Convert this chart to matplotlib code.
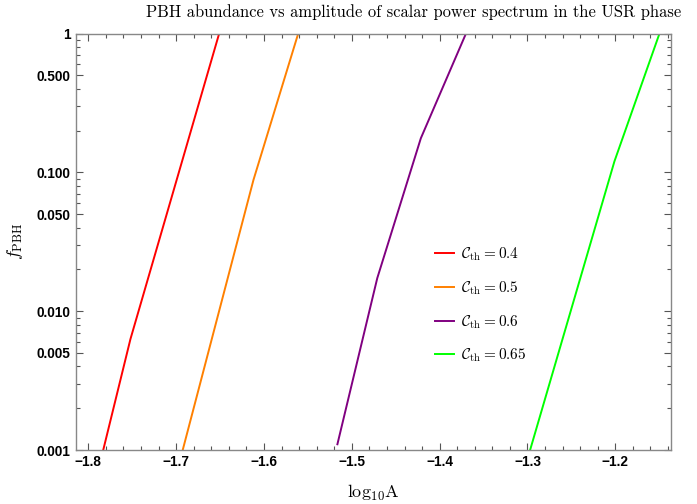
import matplotlib
matplotlib.use("Agg")
import matplotlib.pyplot as plt
from matplotlib.ticker import FixedLocator, NullFormatter

plt.rcParams["mathtext.fontset"] = "cm"

# ------------------------------------------------------------
# Data
# ------------------------------------------------------------
red_x = [-1.783, -1.752, -1.651]
red_y = [0.001, 0.0063, 1.0]

orange_x = [-1.6925, -1.612, -1.561]
orange_y = [0.001, 0.088, 1.0]

purple_x = [-1.5164, -1.471, -1.4214, -1.370]
purple_y = [0.0011, 0.0173, 0.176, 1.0]

green_x = [-1.297, -1.201, -1.1497]
green_y = [0.001, 0.12, 1.0]

labels = [r"$\mathcal{C}_{\mathrm{th}} = 0.4$", r"$\mathcal{C}_{\mathrm{th}} = 0.5$",
          r"$\mathcal{C}_{\mathrm{th}} = 0.6$", r"$\mathcal{C}_{\mathrm{th}} = 0.65$"]
colors = ["#ff0000", "#ff8000", "#800080", "#00ff00"]

x_major = [-1.8, -1.7, -1.6, -1.5, -1.4, -1.3, -1.2]
y_major = [0.001, 0.005, 0.01, 0.05, 0.1, 0.5, 1.0]
y_major_labels = ["0.001", "0.005", "0.010", "0.050", "0.100", "0.500", "1"]

# ------------------------------------------------------------
# Plot
# ------------------------------------------------------------
fig = plt.figure(figsize=(6.97, 5.04), dpi=100)
ax = fig.add_axes([76 / 697, 1 - 450 / 504, 595 / 697, 416.5 / 504])

series = [(red_x, red_y), (orange_x, orange_y), (purple_x, purple_y), (green_x, green_y)]
for (xs, ys), c, lab in zip(series, colors, labels):
    ax.plot(xs, ys, color=c, lw=1.4, label=lab)

ax.set_yscale("log")
ax.set_xlim(-1.814, -1.1366)
ax.set_ylim(0.001, 1.0)

# ticks, Mathematica style
ax.xaxis.set_major_locator(FixedLocator(x_major))
ax.set_xticklabels([f"\u2212{abs(v):.1f}" for v in x_major])
x_minor = [round(-1.82 + 0.02 * i, 2) for i in range(35)]
ax.xaxis.set_minor_locator(FixedLocator([v for v in x_minor if v not in x_major]))

ax.yaxis.set_major_locator(FixedLocator(y_major))
ax.set_yticklabels(y_major_labels)
y_minor = []
for dec in [0.001, 0.01, 0.1]:
    for m in [2, 3, 4, 6, 7, 8, 9]:
        y_minor.append(m * dec)
ax.yaxis.set_minor_locator(FixedLocator(y_minor))
ax.yaxis.set_minor_formatter(NullFormatter())

frame_col = "#888888"
for s in ax.spines.values():
    s.set_color(frame_col)
    s.set_linewidth(1.0)

ax.tick_params(which="both", direction="in", top=True, right=True,
               color="#555555", width=0.8)
ax.tick_params(which="major", length=5)
ax.tick_params(which="minor", length=2.8)
ax.tick_params(axis="y", which="major", pad=4)
for t in ax.get_xticklabels() + ax.get_yticklabels():
    t.set_fontfamily("Liberation Sans")
    t.set_fontweight("bold")
    t.set_fontsize(9.8)

ax.set_xlabel(r"$\mathrm{log_{10}A}$", fontsize=13, labelpad=10)
ax.set_ylabel(r"$f_{\mathrm{PBH}}$", fontsize=13, labelpad=8)
fig.text(414 / 697, 1 - 12 / 504,
         "PBH abundance vs amplitude of scalar power spectrum in the USR phase",
         fontfamily="cmr10", fontsize=11.9, ha="center", va="center")

ax.legend(loc="center left", bbox_to_anchor=(0.581, 0.348), frameon=False,
          fontsize=11, handlelength=1.2, handletextpad=0.5, labelspacing=1.05)

fig.savefig("out.png", dpi=100)
